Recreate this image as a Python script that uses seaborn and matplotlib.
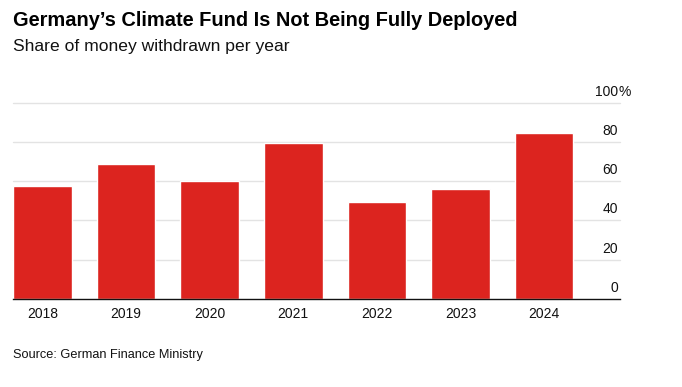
import matplotlib
matplotlib.use("Agg")
import matplotlib.pyplot as plt
import matplotlib.transforms as mtransforms
import seaborn as sns
import pandas as pd

years = ["2018", "2019", "2020", "2021", "2022", "2023", "2024"]
share = [57.6, 69.0, 60.2, 79.7, 49.2, 56.1, 84.7]
yticks = [0, 20, 40, 60, 80, 100]
ytick_labels = ["0", "20", "40", "60", "80", "100%"]

title = "Germany\u2019s Climate Fund Is Not Being Fully Deployed"
subtitle = "Share of money withdrawn per year"
source = "Source: German Finance Ministry"

sns.set_theme(style="white")
plt.rcParams["font.family"] = ["Liberation Sans", "DejaVu Sans"]

df = pd.DataFrame({"year": years, "share": share})

fig = plt.figure(figsize=(6.82, 3.87), dpi=100)
ax = fig.add_axes([13/682, 1 - 299/387, (620 - 13)/682, (299 - 102.7)/387])

sns.barplot(data=df, x="year", y="share", color="#dc241f", saturation=1,
            width=0.7, ax=ax, zorder=3)

ax.set_xlim(-0.35, 6.906)
ax.set_ylim(0, 100)
ax.set_yticks(yticks)
ax.set_yticklabels([])
ax.tick_params(axis="y", length=0)
ax.tick_params(axis="x", length=0, pad=6, labelsize=10, labelcolor="#111111")
ax.set_xlabel("")
ax.set_ylabel("")
for s in ["top", "right", "left"]:
    ax.spines[s].set_visible(False)
ax.spines["bottom"].set_color("#111111")
ax.spines["bottom"].set_linewidth(1.0)
ax.spines["bottom"].set_zorder(4)

for v in yticks[1:]:
    ax.axhline(v, color="#e3e3e3", lw=1.0, zorder=1, clip_on=False)

trans = mtransforms.blended_transform_factory(ax.transAxes, ax.transData)
lab_trans = mtransforms.offset_copy(trans, fig=fig, x=0, y=3, units="points")
for v, lab in zip(yticks, ytick_labels):
    num = lab.rstrip("%")
    ax.text(0.997, v, num, transform=lab_trans,
            ha="right", va="bottom", fontsize=10, color="#111111")
    if lab.endswith("%"):
        ax.text(0.997, v, "%", transform=lab_trans,
                ha="left", va="bottom", fontsize=10, color="#111111")

fig.text(13/682, 1 - 20/387, title, ha="left", va="center", fontsize=14.4,
         fontweight="bold", color="#000000")
fig.text(13/682, 1 - 46/387, subtitle, ha="left", va="center", fontsize=12.6,
         color="#111111")
fig.text(13/682, 1 - 355/387, source, ha="left", va="center", fontsize=9.2,
         color="#111111")

fig.savefig("out.png", dpi=100, facecolor="white")
